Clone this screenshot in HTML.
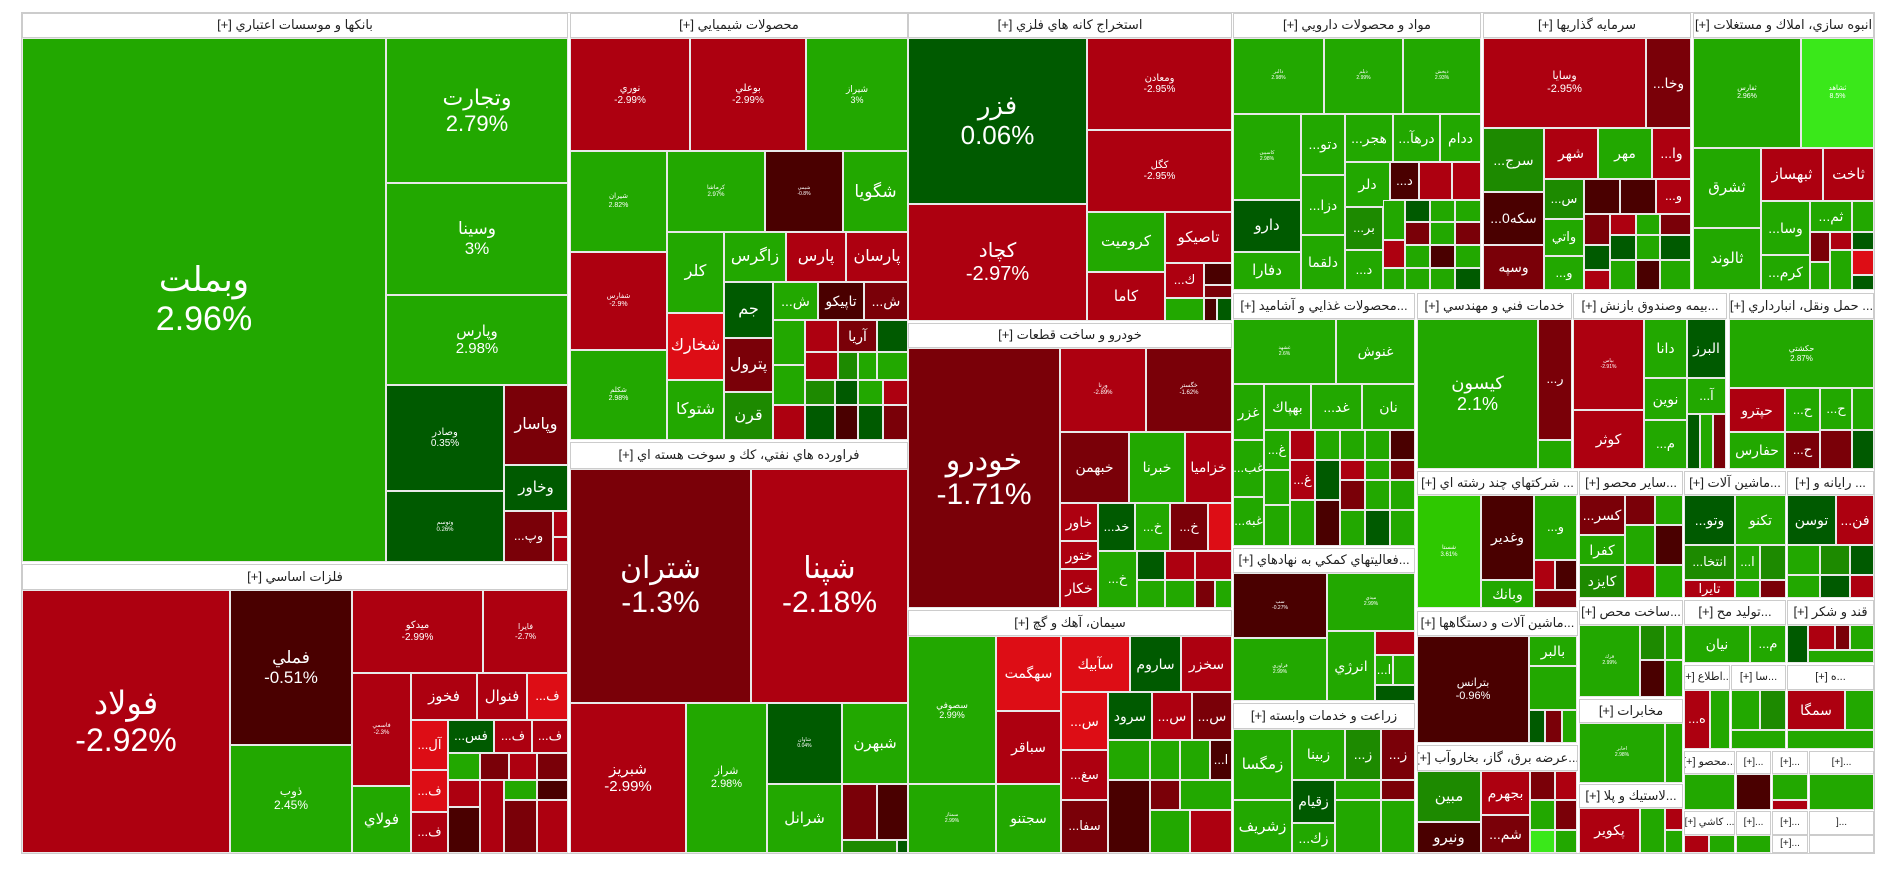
<!DOCTYPE html>
<html><head><meta charset="utf-8"><style>
body{margin:0;width:1900px;height:873px;background:#fff;position:relative;overflow:hidden;font-family:"Liberation Sans","DejaVu Sans",sans-serif}
.c{position:absolute;box-sizing:border-box;border:1px solid #e8e8e8;display:flex;flex-direction:column;align-items:center;justify-content:center;color:#fff;text-align:center;overflow:hidden;line-height:1.15;font-size:13px;white-space:nowrap}
.h{background:#fff;color:#222;font-size:13px;border:1px solid #ccc;direction:rtl}
.G{background:#22a800}.D{background:#005a00}.R{background:#ad0010}.K{background:#7a0008}.V{background:#4a0000}.B{background:#dd0d15}.L{background:#3ae81a}.M{background:#2ec800}.N{background:#1d8a00}
#f{position:absolute;left:21px;top:12px;width:1854px;height:842px;border:1px solid #ccc;box-sizing:border-box}
</style></head><body>
<div id="f"></div>
<!-- Banks -->
<div class="c h" style="left:22px;top:13px;width:546px;height:25px">بانکها و موسسات اعتباري [+]</div>
<div class="c G" style="left:22px;top:38px;width:364px;height:524px;font-size:34px">وبملت<br>2.96%</div>
<div class="c G" style="left:386px;top:38px;width:182px;height:145px;font-size:22px">وتجارت<br>2.79%</div>
<div class="c G" style="left:386px;top:183px;width:182px;height:112px;font-size:17px">وسينا<br>3%</div>
<div class="c G" style="left:386px;top:295px;width:182px;height:90px;font-size:15px">وپارس<br>2.98%</div>
<div class="c D" style="left:386px;top:385px;width:118px;height:106px;font-size:10px">وصادر<br>0.35%</div>
<div class="c D" style="left:386px;top:491px;width:118px;height:71px;font-size:6px">وتوسم<br>0.26%</div>
<div class="c K" style="left:504px;top:385px;width:64px;height:80px;font-size:16px">وپاسار</div>
<div class="c D" style="left:504px;top:465px;width:64px;height:46px;font-size:15px">وخاور</div>
<div class="c K" style="left:504px;top:511px;width:49px;height:51px;font-size:13px">...وپ</div>
<div class="c R" style="left:553px;top:511px;width:15px;height:26px"></div>
<div class="c R" style="left:553px;top:537px;width:15px;height:25px"></div>
<!-- Basic metals -->
<div class="c h" style="left:22px;top:564px;width:546px;height:26px">فلزات اساسي [+]</div>
<div class="c R" style="left:22px;top:590px;width:208px;height:263px;font-size:32px">فولاد<br>-2.92%</div>
<div class="c V" style="left:230px;top:590px;width:122px;height:155px;font-size:17px">فملي<br>-0.51%</div>
<div class="c G" style="left:230px;top:745px;width:122px;height:108px;font-size:12px">ذوب<br>2.45%</div>
<div class="c R" style="left:352px;top:590px;width:131px;height:83px;font-size:10px">ميدكو<br>-2.99%</div>
<div class="c R" style="left:483px;top:590px;width:85px;height:83px;font-size:8px">فايرا<br>-2.7%</div>
<div class="c R" style="left:352px;top:673px;width:59px;height:113px;font-size:6px">فاسمي<br>-2.3%</div>
<div class="c G" style="left:352px;top:786px;width:59px;height:67px;font-size:15px">فولاي</div>
<div class="c R" style="left:411px;top:673px;width:66px;height:47px;font-size:15px">فخوز</div>
<div class="c R" style="left:477px;top:673px;width:50px;height:47px;font-size:15px">فنوال</div>
<div class="c B" style="left:527px;top:673px;width:41px;height:47px">...ف</div>
<div class="c B" style="left:411px;top:720px;width:37px;height:50px">...آل</div>
<div class="c D" style="left:448px;top:720px;width:46px;height:33px">...فس</div>
<div class="c R" style="left:494px;top:720px;width:38px;height:33px">...ف</div>
<div class="c R" style="left:532px;top:720px;width:36px;height:33px">...ف</div>
<div class="c G" style="left:448px;top:753px;width:32px;height:27px"></div>
<div class="c K" style="left:480px;top:753px;width:29px;height:27px"></div>
<div class="c R" style="left:509px;top:753px;width:28px;height:27px"></div>
<div class="c K" style="left:537px;top:753px;width:31px;height:27px"></div>
<div class="c B" style="left:411px;top:770px;width:37px;height:42px">...ف</div>
<div class="c R" style="left:411px;top:812px;width:37px;height:41px">...ف</div>
<div class="c R" style="left:448px;top:780px;width:32px;height:27px"></div>
<div class="c V" style="left:448px;top:807px;width:32px;height:46px"></div>
<div class="c R" style="left:480px;top:780px;width:24px;height:73px"></div>
<div class="c G" style="left:504px;top:780px;width:33px;height:20px"></div>
<div class="c V" style="left:537px;top:780px;width:31px;height:20px"></div>
<div class="c K" style="left:504px;top:800px;width:33px;height:53px"></div>
<div class="c R" style="left:537px;top:800px;width:31px;height:53px"></div>
<!-- Chemicals -->
<div class="c h" style="left:570px;top:13px;width:338px;height:25px">محصولات شيميايي [+]</div>
<div class="c R" style="left:570px;top:38px;width:120px;height:113px;font-size:10px">نوري<br>-2.99%</div>
<div class="c R" style="left:690px;top:38px;width:116px;height:113px;font-size:10px">بوعلي<br>-2.99%</div>
<div class="c G" style="left:806px;top:38px;width:102px;height:113px;font-size:9px">شيراز<br>3%</div>
<div class="c G" style="left:570px;top:151px;width:97px;height:101px;font-size:7px">شيران<br>2.82%</div>
<div class="c R" style="left:570px;top:252px;width:97px;height:98px;font-size:7px">شفارس<br>-2.9%</div>
<div class="c G" style="left:570px;top:350px;width:97px;height:90px;font-size:7px">شكلم<br>2.98%</div>
<div class="c G" style="left:667px;top:151px;width:98px;height:81px;font-size:6px">كرماشا<br>2.97%</div>
<div class="c V" style="left:765px;top:151px;width:78px;height:81px;font-size:5px">شيمي<br>-0.8%</div>
<div class="c G" style="left:843px;top:151px;width:65px;height:81px;font-size:17px">شگويا</div>
<div class="c G" style="left:667px;top:232px;width:57px;height:81px;font-size:16px">كلر</div>
<div class="c B" style="left:667px;top:313px;width:57px;height:67px;font-size:16px">شخارك</div>
<div class="c G" style="left:667px;top:380px;width:57px;height:60px;font-size:16px">شتوكا</div>
<div class="c G" style="left:724px;top:232px;width:62px;height:50px;font-size:16px">زاگرس</div>
<div class="c R" style="left:786px;top:232px;width:60px;height:50px;font-size:16px">پارس</div>
<div class="c R" style="left:846px;top:232px;width:62px;height:50px;font-size:16px">پارسان</div>
<div class="c D" style="left:724px;top:282px;width:49px;height:56px;font-size:16px">جم</div>
<div class="c K" style="left:724px;top:338px;width:49px;height:54px;font-size:16px">پترول</div>
<div class="c N" style="left:724px;top:392px;width:49px;height:48px;font-size:16px">قرن</div>
<div class="c G" style="left:773px;top:282px;width:45px;height:38px;font-size:14px">...ش</div>
<div class="c V" style="left:818px;top:282px;width:46px;height:38px;font-size:14px">تاپيكو</div>
<div class="c K" style="left:864px;top:282px;width:44px;height:38px;font-size:14px">...ش</div>
<div class="c G" style="left:773px;top:320px;width:32px;height:45px"></div>
<div class="c R" style="left:805px;top:320px;width:33px;height:32px"></div>
<div class="c K" style="left:838px;top:320px;width:39px;height:32px;font-size:14px">آريا</div>
<div class="c D" style="left:877px;top:320px;width:31px;height:32px"></div>
<div class="c G" style="left:773px;top:365px;width:32px;height:40px"></div>
<div class="c R" style="left:805px;top:352px;width:33px;height:28px"></div>
<div class="c N" style="left:838px;top:352px;width:20px;height:28px"></div>
<div class="c G" style="left:858px;top:352px;width:19px;height:28px"></div>
<div class="c G" style="left:877px;top:352px;width:31px;height:28px"></div>
<div class="c R" style="left:773px;top:405px;width:32px;height:35px"></div>
<div class="c N" style="left:805px;top:380px;width:30px;height:25px"></div>
<div class="c D" style="left:835px;top:380px;width:23px;height:25px"></div>
<div class="c G" style="left:858px;top:380px;width:25px;height:25px"></div>
<div class="c R" style="left:883px;top:380px;width:25px;height:25px"></div>
<div class="c D" style="left:805px;top:405px;width:30px;height:35px"></div>
<div class="c V" style="left:835px;top:405px;width:23px;height:35px"></div>
<div class="c D" style="left:858px;top:405px;width:25px;height:35px"></div>
<div class="c K" style="left:883px;top:405px;width:25px;height:35px"></div>
<!-- Petroleum -->
<div class="c h" style="left:570px;top:442px;width:338px;height:27px">فراورده هاي نفتي، كك و سوخت هسته اي [+]</div>
<div class="c K" style="left:570px;top:469px;width:181px;height:234px;font-size:30px">شتران<br>-1.3%</div>
<div class="c R" style="left:751px;top:469px;width:157px;height:234px;font-size:30px">شپنا<br>-2.18%</div>
<div class="c R" style="left:570px;top:703px;width:116px;height:150px;font-size:15px">شبريز<br>-2.99%</div>
<div class="c G" style="left:686px;top:703px;width:81px;height:150px;font-size:11px">شراز<br>2.98%</div>
<div class="c D" style="left:767px;top:703px;width:75px;height:81px;font-size:5px">شاوان<br>0.04%</div>
<div class="c G" style="left:767px;top:784px;width:75px;height:69px;font-size:15px">شرانل</div>
<div class="c G" style="left:842px;top:703px;width:66px;height:81px;font-size:15px">شبهرن</div>
<div class="c K" style="left:842px;top:784px;width:35px;height:56px"></div>
<div class="c V" style="left:877px;top:784px;width:31px;height:56px"></div>
<div class="c N" style="left:842px;top:840px;width:55px;height:13px"></div>
<div class="c D" style="left:897px;top:840px;width:11px;height:13px"></div>
<!-- Metals extraction -->
<div class="c h" style="left:908px;top:13px;width:324px;height:25px">استخراج كانه هاي فلزي [+]</div>
<div class="c D" style="left:908px;top:38px;width:179px;height:166px;font-size:26px">فزر<br>0.06%</div>
<div class="c R" style="left:908px;top:204px;width:179px;height:117px;font-size:20px">كچاد<br>-2.97%</div>
<div class="c R" style="left:1087px;top:38px;width:145px;height:92px;font-size:10px">ومعادن<br>-2.95%</div>
<div class="c R" style="left:1087px;top:130px;width:145px;height:82px;font-size:10px">كگل<br>-2.95%</div>
<div class="c G" style="left:1087px;top:212px;width:78px;height:60px;font-size:15px">كروميت</div>
<div class="c R" style="left:1087px;top:272px;width:78px;height:49px;font-size:15px">كاما</div>
<div class="c R" style="left:1165px;top:212px;width:67px;height:51px;font-size:15px">تاصيكو</div>
<div class="c R" style="left:1165px;top:263px;width:39px;height:35px">...ك</div>
<div class="c V" style="left:1204px;top:263px;width:28px;height:22px"></div>
<div class="c K" style="left:1204px;top:285px;width:28px;height:13px"></div>
<div class="c G" style="left:1165px;top:298px;width:39px;height:23px"></div>
<div class="c V" style="left:1204px;top:298px;width:13px;height:23px"></div>
<div class="c D" style="left:1217px;top:298px;width:15px;height:23px"></div>
<!-- Auto -->
<div class="c h" style="left:908px;top:323px;width:324px;height:25px">خودرو و ساخت قطعات [+]</div>
<div class="c K" style="left:908px;top:348px;width:152px;height:260px;font-size:30px">خودرو<br>-1.71%</div>
<div class="c R" style="left:1060px;top:348px;width:86px;height:84px;font-size:6px">ورنا<br>-2.89%</div>
<div class="c K" style="left:1146px;top:348px;width:86px;height:84px;font-size:6px">خگستر<br>-1.62%</div>
<div class="c K" style="left:1060px;top:432px;width:69px;height:71px;font-size:14px">خبهمن</div>
<div class="c G" style="left:1129px;top:432px;width:56px;height:71px;font-size:14px">خبرنا</div>
<div class="c R" style="left:1185px;top:432px;width:47px;height:71px;font-size:14px">خزاميا</div>
<div class="c R" style="left:1060px;top:503px;width:38px;height:38px;font-size:14px">خاور</div>
<div class="c R" style="left:1060px;top:541px;width:38px;height:28px;font-size:14px">ختور</div>
<div class="c R" style="left:1060px;top:569px;width:38px;height:39px;font-size:14px">خكار</div>
<div class="c D" style="left:1098px;top:503px;width:37px;height:48px">...خد</div>
<div class="c G" style="left:1135px;top:503px;width:35px;height:48px">...خ</div>
<div class="c K" style="left:1170px;top:503px;width:38px;height:48px">...خ</div>
<div class="c B" style="left:1208px;top:503px;width:24px;height:48px"></div>
<div class="c G" style="left:1098px;top:551px;width:39px;height:57px">...خ</div>
<div class="c D" style="left:1137px;top:551px;width:28px;height:29px"></div>
<div class="c R" style="left:1165px;top:551px;width:30px;height:29px"></div>
<div class="c R" style="left:1195px;top:551px;width:37px;height:29px"></div>
<div class="c G" style="left:1137px;top:580px;width:28px;height:28px"></div>
<div class="c G" style="left:1165px;top:580px;width:30px;height:28px"></div>
<div class="c K" style="left:1195px;top:580px;width:20px;height:28px"></div>
<div class="c G" style="left:1215px;top:580px;width:17px;height:28px"></div>
<!-- Cement -->
<div class="c h" style="left:908px;top:610px;width:324px;height:26px">سيمان، آهك و گچ [+]</div>
<div class="c G" style="left:908px;top:636px;width:88px;height:148px;font-size:9px">سصوفي<br>2.99%</div>
<div class="c G" style="left:908px;top:784px;width:88px;height:69px;font-size:5px">سمتاز<br>2.99%</div>
<div class="c B" style="left:996px;top:636px;width:65px;height:75px;font-size:14px">سهگمت</div>
<div class="c R" style="left:996px;top:711px;width:65px;height:73px;font-size:14px">سباقر</div>
<div class="c G" style="left:996px;top:784px;width:65px;height:69px;font-size:14px">سجتنو</div>
<div class="c B" style="left:1061px;top:636px;width:69px;height:56px;font-size:14px">سآبيك</div>
<div class="c D" style="left:1130px;top:636px;width:51px;height:56px;font-size:14px">ساروم</div>
<div class="c R" style="left:1181px;top:636px;width:51px;height:56px;font-size:14px">سخزر</div>
<div class="c B" style="left:1061px;top:692px;width:47px;height:58px;font-size:14px">...س</div>
<div class="c R" style="left:1061px;top:750px;width:47px;height:50px;font-size:13px">...سغ</div>
<div class="c K" style="left:1061px;top:800px;width:47px;height:53px;font-size:13px">...سفا</div>
<div class="c D" style="left:1108px;top:692px;width:44px;height:48px;font-size:14px">سرود</div>
<div class="c R" style="left:1152px;top:692px;width:40px;height:48px;font-size:14px">...س</div>
<div class="c K" style="left:1192px;top:692px;width:40px;height:48px;font-size:14px">...س</div>
<div class="c G" style="left:1108px;top:740px;width:42px;height:40px"></div>
<div class="c G" style="left:1150px;top:740px;width:30px;height:40px"></div>
<div class="c G" style="left:1180px;top:740px;width:30px;height:40px"></div>
<div class="c V" style="left:1210px;top:740px;width:22px;height:40px">...ا</div>
<div class="c V" style="left:1108px;top:780px;width:42px;height:73px"></div>
<div class="c K" style="left:1150px;top:780px;width:30px;height:30px"></div>
<div class="c G" style="left:1180px;top:780px;width:52px;height:30px"></div>
<div class="c G" style="left:1150px;top:810px;width:40px;height:43px"></div>
<div class="c R" style="left:1190px;top:810px;width:42px;height:43px"></div>
<!-- Pharma -->
<div class="c h" style="left:1233px;top:13px;width:248px;height:25px">مواد و محصولات دارويي [+]</div>
<div class="c G" style="left:1233px;top:38px;width:91px;height:76px;font-size:5px">دالبر<br>2.98%</div>
<div class="c G" style="left:1324px;top:38px;width:79px;height:76px;font-size:5px">ديلم<br>2.99%</div>
<div class="c G" style="left:1403px;top:38px;width:78px;height:76px;font-size:5px">دپخش<br>2.93%</div>
<div class="c G" style="left:1233px;top:114px;width:68px;height:86px;font-size:5px">كاسپين<br>2.98%</div>
<div class="c D" style="left:1233px;top:200px;width:68px;height:52px;font-size:15px">دارو</div>
<div class="c G" style="left:1233px;top:252px;width:68px;height:38px;font-size:15px">دفارا</div>
<div class="c G" style="left:1301px;top:114px;width:44px;height:61px;font-size:14px">...دتو</div>
<div class="c G" style="left:1301px;top:175px;width:44px;height:60px;font-size:14px">...دزا</div>
<div class="c G" style="left:1301px;top:235px;width:44px;height:55px;font-size:14px">دلقما</div>
<div class="c G" style="left:1345px;top:114px;width:48px;height:48px;font-size:14px">...هجر</div>
<div class="c G" style="left:1393px;top:114px;width:47px;height:48px;font-size:14px">...درهآ</div>
<div class="c G" style="left:1440px;top:114px;width:41px;height:48px;font-size:14px">ددام</div>
<div class="c G" style="left:1345px;top:162px;width:45px;height:45px;font-size:14px">دلر</div>
<div class="c V" style="left:1390px;top:162px;width:29px;height:38px">...د</div>
<div class="c R" style="left:1419px;top:162px;width:33px;height:38px"></div>
<div class="c R" style="left:1452px;top:162px;width:29px;height:38px"></div>
<div class="c N" style="left:1345px;top:207px;width:38px;height:43px">...بر</div>
<div class="c G" style="left:1345px;top:250px;width:38px;height:40px">...د</div>
<div class="c G" style="left:1383px;top:200px;width:22px;height:40px"></div>
<div class="c D" style="left:1405px;top:200px;width:25px;height:22px"></div>
<div class="c G" style="left:1430px;top:200px;width:25px;height:22px"></div>
<div class="c G" style="left:1455px;top:200px;width:26px;height:22px"></div>
<div class="c K" style="left:1405px;top:222px;width:25px;height:23px"></div>
<div class="c G" style="left:1430px;top:222px;width:25px;height:23px"></div>
<div class="c K" style="left:1455px;top:222px;width:26px;height:23px"></div>
<div class="c R" style="left:1383px;top:240px;width:22px;height:28px"></div>
<div class="c G" style="left:1405px;top:245px;width:25px;height:23px"></div>
<div class="c V" style="left:1430px;top:245px;width:25px;height:23px"></div>
<div class="c G" style="left:1455px;top:245px;width:26px;height:23px"></div>
<div class="c G" style="left:1383px;top:268px;width:22px;height:22px"></div>
<div class="c G" style="left:1405px;top:268px;width:25px;height:22px"></div>
<div class="c G" style="left:1430px;top:268px;width:25px;height:22px"></div>
<div class="c D" style="left:1455px;top:268px;width:26px;height:22px"></div>
<!-- Investments -->
<div class="c h" style="left:1483px;top:13px;width:208px;height:25px">سرمايه گذاريها [+]</div>
<div class="c R" style="left:1483px;top:38px;width:163px;height:90px;font-size:11px">وسايا<br>-2.95%</div>
<div class="c K" style="left:1646px;top:38px;width:45px;height:90px;font-size:14px">...وخا</div>
<div class="c N" style="left:1483px;top:128px;width:61px;height:64px;font-size:14px">...سرج</div>
<div class="c V" style="left:1483px;top:192px;width:61px;height:53px;font-size:14px">...سكه0</div>
<div class="c K" style="left:1483px;top:245px;width:61px;height:45px;font-size:14px">وسپه</div>
<div class="c R" style="left:1544px;top:128px;width:54px;height:51px;font-size:14px">شهر</div>
<div class="c G" style="left:1598px;top:128px;width:54px;height:51px;font-size:14px">مهر</div>
<div class="c R" style="left:1652px;top:128px;width:39px;height:51px;font-size:14px">...وا</div>
<div class="c N" style="left:1544px;top:179px;width:40px;height:40px">...س</div>
<div class="c G" style="left:1544px;top:219px;width:40px;height:37px">واتي</div>
<div class="c G" style="left:1544px;top:256px;width:40px;height:34px">...و</div>
<div class="c V" style="left:1584px;top:179px;width:36px;height:35px"></div>
<div class="c V" style="left:1620px;top:179px;width:36px;height:35px"></div>
<div class="c R" style="left:1656px;top:179px;width:35px;height:35px">...و</div>
<div class="c K" style="left:1584px;top:214px;width:26px;height:31px"></div>
<div class="c R" style="left:1610px;top:214px;width:26px;height:21px"></div>
<div class="c G" style="left:1636px;top:214px;width:24px;height:21px"></div>
<div class="c K" style="left:1660px;top:214px;width:31px;height:21px"></div>
<div class="c D" style="left:1584px;top:245px;width:26px;height:25px"></div>
<div class="c R" style="left:1584px;top:270px;width:26px;height:20px"></div>
<div class="c D" style="left:1610px;top:235px;width:26px;height:25px"></div>
<div class="c G" style="left:1636px;top:235px;width:24px;height:25px"></div>
<div class="c D" style="left:1660px;top:235px;width:31px;height:25px"></div>
<div class="c G" style="left:1610px;top:260px;width:26px;height:30px"></div>
<div class="c V" style="left:1636px;top:260px;width:24px;height:30px"></div>
<div class="c G" style="left:1660px;top:260px;width:31px;height:30px"></div>
<!-- Real estate -->
<div class="c h" style="left:1693px;top:13px;width:181px;height:25px">انبوه سازي، املاك و مستغلات [+]</div>
<div class="c G" style="left:1693px;top:38px;width:108px;height:110px;font-size:7px">ثفارس<br>2.96%</div>
<div class="c L" style="left:1801px;top:38px;width:73px;height:110px;font-size:7px">ثشاهد<br>8.5%</div>
<div class="c G" style="left:1693px;top:148px;width:68px;height:80px;font-size:15px">ثشرق</div>
<div class="c G" style="left:1693px;top:228px;width:68px;height:62px;font-size:15px">ثالوند</div>
<div class="c R" style="left:1761px;top:148px;width:62px;height:53px;font-size:15px">ثبهساز</div>
<div class="c R" style="left:1823px;top:148px;width:51px;height:53px;font-size:15px">ثاخت</div>
<div class="c G" style="left:1761px;top:201px;width:49px;height:54px;font-size:14px">...وسا</div>
<div class="c G" style="left:1761px;top:255px;width:49px;height:35px;font-size:14px">...كرم</div>
<div class="c G" style="left:1810px;top:201px;width:42px;height:31px;font-size:14px">...ثم</div>
<div class="c G" style="left:1852px;top:201px;width:22px;height:31px"></div>
<div class="c K" style="left:1810px;top:232px;width:20px;height:30px"></div>
<div class="c R" style="left:1830px;top:232px;width:22px;height:18px"></div>
<div class="c D" style="left:1852px;top:232px;width:22px;height:18px"></div>
<div class="c G" style="left:1830px;top:250px;width:22px;height:40px"></div>
<div class="c B" style="left:1852px;top:250px;width:22px;height:25px"></div>
<div class="c G" style="left:1810px;top:262px;width:20px;height:28px"></div>
<div class="c D" style="left:1852px;top:275px;width:22px;height:15px"></div>
<!-- band 2 headers -->
<div class="c h" style="left:1233px;top:293px;width:182px;height:26px">...محصولات غذايي و آشاميد [+]</div>
<div class="c h" style="left:1417px;top:293px;width:155px;height:26px">خدمات فني و مهندسي [+]</div>
<div class="c h" style="left:1573px;top:293px;width:154px;height:26px">...بيمه وصندوق بازنش [+]</div>
<div class="c h" style="left:1729px;top:293px;width:145px;height:26px">... حمل ونقل، انبارداري [+]</div>
<!-- Food -->
<div class="c G" style="left:1233px;top:319px;width:103px;height:65px;font-size:5px">غشهد<br>2.6%</div>
<div class="c G" style="left:1336px;top:319px;width:79px;height:65px;font-size:14px">غنوش</div>
<div class="c G" style="left:1233px;top:384px;width:31px;height:56px;font-size:14px">غزر</div>
<div class="c G" style="left:1233px;top:440px;width:31px;height:57px;font-size:13px">...غب</div>
<div class="c G" style="left:1233px;top:497px;width:31px;height:49px;font-size:13px">...غبه</div>
<div class="c G" style="left:1264px;top:384px;width:47px;height:46px;font-size:14px">بهپاك</div>
<div class="c G" style="left:1311px;top:384px;width:51px;height:46px;font-size:14px">...غد</div>
<div class="c G" style="left:1362px;top:384px;width:53px;height:46px;font-size:14px">نان</div>
<div class="c G" style="left:1264px;top:430px;width:26px;height:40px">...غ</div>
<div class="c R" style="left:1290px;top:430px;width:25px;height:30px"></div>
<div class="c G" style="left:1315px;top:430px;width:25px;height:30px"></div>
<div class="c G" style="left:1340px;top:430px;width:25px;height:30px"></div>
<div class="c G" style="left:1365px;top:430px;width:25px;height:30px"></div>
<div class="c V" style="left:1390px;top:430px;width:25px;height:30px"></div>
<div class="c G" style="left:1264px;top:470px;width:26px;height:35px"></div>
<div class="c R" style="left:1290px;top:460px;width:25px;height:40px">...غ</div>
<div class="c D" style="left:1315px;top:460px;width:25px;height:40px"></div>
<div class="c R" style="left:1340px;top:460px;width:25px;height:20px"></div>
<div class="c G" style="left:1365px;top:460px;width:25px;height:20px"></div>
<div class="c K" style="left:1390px;top:460px;width:25px;height:20px"></div>
<div class="c K" style="left:1340px;top:480px;width:25px;height:30px"></div>
<div class="c G" style="left:1365px;top:480px;width:25px;height:30px"></div>
<div class="c G" style="left:1390px;top:480px;width:25px;height:30px"></div>
<div class="c G" style="left:1264px;top:505px;width:26px;height:41px"></div>
<div class="c G" style="left:1290px;top:500px;width:25px;height:46px"></div>
<div class="c V" style="left:1315px;top:500px;width:25px;height:46px"></div>
<div class="c G" style="left:1340px;top:510px;width:25px;height:36px"></div>
<div class="c D" style="left:1365px;top:510px;width:25px;height:36px"></div>
<div class="c G" style="left:1390px;top:510px;width:25px;height:36px"></div>
<!-- Engineering -->
<div class="c G" style="left:1417px;top:319px;width:121px;height:150px;font-size:18px">كيسون<br>2.1%</div>
<div class="c K" style="left:1538px;top:319px;width:34px;height:121px">...ر</div>
<div class="c G" style="left:1538px;top:440px;width:34px;height:29px"></div>
<!-- Insurance -->
<div class="c R" style="left:1573px;top:319px;width:71px;height:91px;font-size:5px">بپاس<br>-2.91%</div>
<div class="c R" style="left:1573px;top:410px;width:71px;height:59px;font-size:14px">كوثر</div>
<div class="c G" style="left:1644px;top:319px;width:43px;height:59px;font-size:14px">دانا</div>
<div class="c D" style="left:1687px;top:319px;width:39px;height:59px;font-size:14px">البرز</div>
<div class="c G" style="left:1644px;top:378px;width:43px;height:42px;font-size:14px">نوين</div>
<div class="c G" style="left:1687px;top:378px;width:39px;height:36px">...آ</div>
<div class="c G" style="left:1644px;top:420px;width:43px;height:49px">...م</div>
<div class="c D" style="left:1687px;top:414px;width:13px;height:55px"></div>
<div class="c G" style="left:1700px;top:414px;width:13px;height:55px"></div>
<div class="c K" style="left:1713px;top:414px;width:13px;height:55px"></div>
<!-- Transport -->
<div class="c G" style="left:1729px;top:319px;width:145px;height:69px;font-size:8px">حكشتي<br>2.87%</div>
<div class="c R" style="left:1729px;top:388px;width:56px;height:44px;font-size:14px">حپترو</div>
<div class="c G" style="left:1729px;top:432px;width:56px;height:37px;font-size:14px">حفارس</div>
<div class="c G" style="left:1785px;top:388px;width:35px;height:44px">...ح</div>
<div class="c G" style="left:1820px;top:388px;width:32px;height:42px">...ح</div>
<div class="c G" style="left:1852px;top:388px;width:22px;height:42px"></div>
<div class="c K" style="left:1785px;top:432px;width:35px;height:37px">...ح</div>
<div class="c K" style="left:1820px;top:430px;width:32px;height:39px"></div>
<div class="c D" style="left:1852px;top:430px;width:22px;height:39px"></div>
<!-- band 3 -->
<div class="c h" style="left:1417px;top:471px;width:161px;height:24px">... شركتهاي چند رشته اي [+]</div>
<div class="c h" style="left:1579px;top:471px;width:104px;height:24px">...ساير محصو [+]</div>
<div class="c h" style="left:1684px;top:471px;width:102px;height:24px">...ماشين آلات [+]</div>
<div class="c h" style="left:1787px;top:471px;width:87px;height:24px">... رايانه و [+]</div>
<div class="c M" style="left:1417px;top:495px;width:64px;height:113px;font-size:6px">شستا<br>3.61%</div>
<div class="c V" style="left:1481px;top:495px;width:53px;height:85px;font-size:14px">وغدير</div>
<div class="c G" style="left:1481px;top:580px;width:53px;height:28px;font-size:14px">وبانك</div>
<div class="c G" style="left:1534px;top:495px;width:43px;height:65px">...و</div>
<div class="c R" style="left:1534px;top:560px;width:21px;height:30px"></div>
<div class="c V" style="left:1555px;top:560px;width:22px;height:30px"></div>
<div class="c K" style="left:1534px;top:590px;width:43px;height:18px"></div>
<div class="c K" style="left:1579px;top:495px;width:46px;height:40px;font-size:14px">...كسر</div>
<div class="c K" style="left:1625px;top:495px;width:30px;height:30px"></div>
<div class="c G" style="left:1655px;top:495px;width:28px;height:30px"></div>
<div class="c G" style="left:1579px;top:535px;width:46px;height:30px;font-size:14px">كفرا</div>
<div class="c N" style="left:1579px;top:565px;width:46px;height:33px;font-size:14px">كايزد</div>
<div class="c G" style="left:1625px;top:525px;width:30px;height:40px"></div>
<div class="c V" style="left:1655px;top:525px;width:28px;height:40px"></div>
<div class="c R" style="left:1625px;top:565px;width:30px;height:33px"></div>
<div class="c G" style="left:1655px;top:565px;width:28px;height:33px"></div>
<div class="c D" style="left:1684px;top:495px;width:51px;height:50px;font-size:14px">...وتو</div>
<div class="c G" style="left:1735px;top:495px;width:51px;height:50px;font-size:14px">تكنو</div>
<div class="c N" style="left:1684px;top:545px;width:51px;height:35px">...انتخا</div>
<div class="c G" style="left:1735px;top:545px;width:25px;height:35px">...ا</div>
<div class="c N" style="left:1760px;top:545px;width:26px;height:35px"></div>
<div class="c R" style="left:1684px;top:580px;width:51px;height:18px">تايرا</div>
<div class="c G" style="left:1735px;top:580px;width:25px;height:18px"></div>
<div class="c K" style="left:1760px;top:580px;width:26px;height:18px"></div>
<div class="c D" style="left:1787px;top:495px;width:49px;height:50px;font-size:14px">توسن</div>
<div class="c R" style="left:1836px;top:495px;width:38px;height:50px;font-size:14px">...فن</div>
<div class="c G" style="left:1787px;top:545px;width:33px;height:30px"></div>
<div class="c N" style="left:1820px;top:545px;width:30px;height:30px"></div>
<div class="c D" style="left:1850px;top:545px;width:24px;height:30px"></div>
<div class="c G" style="left:1787px;top:575px;width:33px;height:23px"></div>
<div class="c D" style="left:1820px;top:575px;width:30px;height:23px"></div>
<div class="c R" style="left:1850px;top:575px;width:24px;height:23px"></div>
<!-- Support activities -->
<div class="c h" style="left:1233px;top:548px;width:182px;height:25px">...فعاليتهاي كمكي به نهادهاي [+]</div>
<div class="c V" style="left:1233px;top:573px;width:94px;height:65px;font-size:5px">سپ<br>-0.27%</div>
<div class="c G" style="left:1327px;top:573px;width:88px;height:58px;font-size:5px">ميدي<br>2.99%</div>
<div class="c G" style="left:1233px;top:638px;width:94px;height:63px;font-size:5px">فراوري<br>2.99%</div>
<div class="c G" style="left:1327px;top:631px;width:48px;height:70px;font-size:14px">انرژي</div>
<div class="c R" style="left:1375px;top:631px;width:40px;height:24px"></div>
<div class="c G" style="left:1375px;top:655px;width:18px;height:30px">...ا</div>
<div class="c G" style="left:1393px;top:655px;width:22px;height:30px"></div>
<div class="c D" style="left:1375px;top:685px;width:40px;height:16px"></div>
<!-- Agriculture -->
<div class="c h" style="left:1233px;top:703px;width:182px;height:26px">زراعت و خدمات وابسته [+]</div>
<div class="c G" style="left:1233px;top:729px;width:59px;height:71px;font-size:15px">زمگسا</div>
<div class="c G" style="left:1233px;top:800px;width:59px;height:53px;font-size:15px">زشريف</div>
<div class="c G" style="left:1292px;top:729px;width:53px;height:51px;font-size:14px">زبينا</div>
<div class="c N" style="left:1345px;top:729px;width:36px;height:51px;font-size:14px">...ز</div>
<div class="c K" style="left:1381px;top:729px;width:34px;height:51px;font-size:14px">...ز</div>
<div class="c D" style="left:1292px;top:780px;width:43px;height:43px;font-size:14px">زقيام</div>
<div class="c G" style="left:1292px;top:823px;width:43px;height:30px;font-size:14px">...زك</div>
<div class="c G" style="left:1335px;top:780px;width:46px;height:20px"></div>
<div class="c K" style="left:1381px;top:780px;width:34px;height:20px"></div>
<div class="c G" style="left:1335px;top:800px;width:46px;height:53px"></div>
<div class="c G" style="left:1381px;top:800px;width:34px;height:53px"></div>
<!-- Machinery devices -->
<div class="c h" style="left:1417px;top:611px;width:161px;height:25px">...ماشين آلات و دستگاهها [+]</div>
<div class="c V" style="left:1417px;top:636px;width:112px;height:107px;font-size:11px">بترانس<br>-0.96%</div>
<div class="c G" style="left:1529px;top:636px;width:48px;height:30px;font-size:14px">بالبر</div>
<div class="c G" style="left:1529px;top:666px;width:48px;height:44px"></div>
<div class="c D" style="left:1529px;top:710px;width:16px;height:33px"></div>
<div class="c K" style="left:1545px;top:710px;width:17px;height:33px"></div>
<div class="c G" style="left:1562px;top:710px;width:15px;height:33px"></div>
<!-- Electricity -->
<div class="c h" style="left:1417px;top:745px;width:161px;height:26px">...عرضه برق، گاز، بخاروآب [+]</div>
<div class="c N" style="left:1417px;top:771px;width:64px;height:51px;font-size:15px">مبين</div>
<div class="c V" style="left:1417px;top:822px;width:64px;height:31px;font-size:15px">ونيرو</div>
<div class="c R" style="left:1481px;top:771px;width:49px;height:44px;font-size:14px">بجهرم</div>
<div class="c K" style="left:1481px;top:815px;width:49px;height:38px;font-size:14px">...شم</div>
<div class="c K" style="left:1530px;top:771px;width:25px;height:29px"></div>
<div class="c R" style="left:1555px;top:771px;width:22px;height:29px"></div>
<div class="c G" style="left:1530px;top:800px;width:25px;height:30px"></div>
<div class="c K" style="left:1555px;top:800px;width:22px;height:30px"></div>
<div class="c L" style="left:1530px;top:830px;width:25px;height:23px"></div>
<div class="c G" style="left:1555px;top:830px;width:22px;height:23px"></div>
<!-- band 4+ small sectors -->
<div class="c h" style="left:1579px;top:600px;width:104px;height:25px">...ساخت محص [+]</div>
<div class="c h" style="left:1684px;top:600px;width:102px;height:25px">...توليد مح [+]</div>
<div class="c h" style="left:1787px;top:600px;width:87px;height:25px">قند و شكر [+]</div>
<div class="c G" style="left:1579px;top:625px;width:61px;height:72px;font-size:5px">فرك<br>2.99%</div>
<div class="c N" style="left:1640px;top:625px;width:25px;height:35px"></div>
<div class="c G" style="left:1665px;top:625px;width:18px;height:35px"></div>
<div class="c V" style="left:1640px;top:660px;width:25px;height:37px"></div>
<div class="c G" style="left:1665px;top:660px;width:18px;height:37px"></div>
<div class="c h" style="left:1579px;top:699px;width:104px;height:24px">مخابرات [+]</div>
<div class="c G" style="left:1579px;top:723px;width:86px;height:60px;font-size:5px">اخابر<br>2.98%</div>
<div class="c G" style="left:1665px;top:723px;width:18px;height:60px"></div>
<div class="c h" style="left:1579px;top:784px;width:104px;height:24px">...لاستيك و پلا [+]</div>
<div class="c R" style="left:1579px;top:808px;width:61px;height:45px;font-size:14px">پكوير</div>
<div class="c G" style="left:1640px;top:808px;width:25px;height:45px"></div>
<div class="c R" style="left:1665px;top:808px;width:18px;height:22px"></div>
<div class="c G" style="left:1665px;top:830px;width:18px;height:23px"></div>
<div class="c G" style="left:1684px;top:625px;width:66px;height:38px;font-size:14px">نيان</div>
<div class="c G" style="left:1750px;top:625px;width:36px;height:38px">...م</div>
<div class="c D" style="left:1787px;top:625px;width:21px;height:38px"></div>
<div class="c R" style="left:1808px;top:625px;width:27px;height:25px"></div>
<div class="c K" style="left:1835px;top:625px;width:15px;height:25px"></div>
<div class="c G" style="left:1850px;top:625px;width:24px;height:25px"></div>
<div class="c G" style="left:1808px;top:650px;width:66px;height:13px"></div>
<div class="c h" style="left:1684px;top:665px;width:46px;height:25px;font-size:11px">...اطلاع [+]</div>
<div class="c h" style="left:1731px;top:665px;width:55px;height:25px;font-size:11px">...سا [+]</div>
<div class="c h" style="left:1787px;top:665px;width:87px;height:25px;font-size:11px">...ه [+]</div>
<div class="c R" style="left:1684px;top:690px;width:26px;height:59px">...ه</div>
<div class="c G" style="left:1710px;top:690px;width:20px;height:59px"></div>
<div class="c G" style="left:1731px;top:690px;width:29px;height:40px"></div>
<div class="c N" style="left:1760px;top:690px;width:26px;height:40px"></div>
<div class="c G" style="left:1731px;top:730px;width:55px;height:19px"></div>
<div class="c R" style="left:1787px;top:690px;width:58px;height:40px;font-size:14px">سمگا</div>
<div class="c G" style="left:1845px;top:690px;width:29px;height:40px"></div>
<div class="c G" style="left:1787px;top:730px;width:87px;height:19px"></div>
<div class="c h" style="left:1684px;top:751px;width:51px;height:23px;font-size:11px">...محصو [+]</div>
<div class="c h" style="left:1736px;top:751px;width:35px;height:23px;font-size:10px">...[+]</div>
<div class="c h" style="left:1772px;top:751px;width:36px;height:23px;font-size:10px">...[+]</div>
<div class="c h" style="left:1809px;top:751px;width:65px;height:23px;font-size:10px">...[+]</div>
<div class="c G" style="left:1684px;top:774px;width:51px;height:36px"></div>
<div class="c V" style="left:1736px;top:774px;width:35px;height:36px"></div>
<div class="c G" style="left:1772px;top:774px;width:36px;height:26px"></div>
<div class="c R" style="left:1772px;top:800px;width:36px;height:10px"></div>
<div class="c G" style="left:1809px;top:774px;width:65px;height:36px"></div>
<div class="c h" style="left:1684px;top:811px;width:51px;height:24px;font-size:10px">... كاشي [+]</div>
<div class="c h" style="left:1736px;top:811px;width:35px;height:24px;font-size:10px">...[+]</div>
<div class="c h" style="left:1772px;top:811px;width:36px;height:24px;font-size:10px">...[+]</div>
<div class="c h" style="left:1809px;top:811px;width:65px;height:24px;font-size:10px">...[</div>
<div class="c R" style="left:1684px;top:835px;width:25px;height:18px"></div>
<div class="c G" style="left:1709px;top:835px;width:26px;height:18px"></div>
<div class="c G" style="left:1736px;top:835px;width:35px;height:18px"></div>
<div class="c h" style="left:1772px;top:835px;width:36px;height:18px;font-size:10px">...[+]</div>
<div class="c h" style="left:1809px;top:835px;width:65px;height:18px"></div>
</body></html>
